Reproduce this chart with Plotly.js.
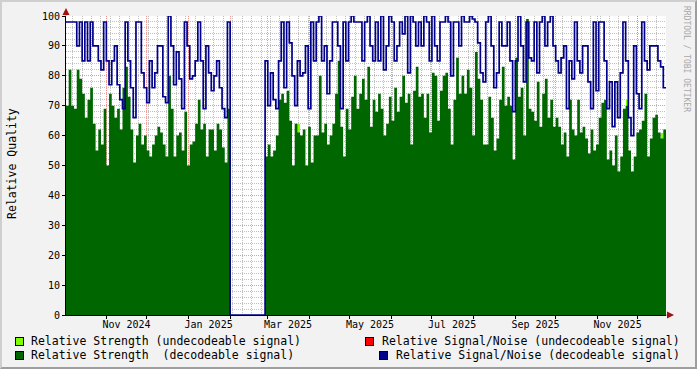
<!DOCTYPE html>
<html>
<head>
<meta charset="utf-8">
<script src="https://cdn.plot.ly/plotly-3.0.1.min.js"></script>
<style>
  html, body { margin: 0; padding: 0; background: #f2f2f2; }
  #wrap { position: relative; width: 697px; height: 369px; }
  #chart { width: 697px; height: 369px; }
  #frame { position: absolute; left: 0; top: 0; width: 697px; height: 369px; box-sizing: border-box;
           border-style: solid; border-width: 2px; border-color: #cfcfcf #9e9e9e #9e9e9e #cfcfcf; pointer-events: none; }
</style>
</head>
<body>
<div id="wrap"><div id="chart"></div><div id="frame"></div></div>
<script>
// ---- data (one sample every 2 days starting 2024-10-02) ----
const startDate = '2024-10-02';
const stepDays = 2;

const strengthDecodeable = [
70,82,70,69,82,79,74,66,72,76,64,55,62,57,69,50,74,70,66,69,62,76,83,73,62,51,60,64,57,60,55,53,57,60,63,61,57,53,80,69,53,60,61,55,68,
50,57,58,64,72,62,64,53,62,62,55,64,62,56,51,69,
0,0,0,0,0,0,0,0,0,0,0,0,0,
53,57,53,55,60,72,74,71,75,65,50,64,61,60,62,
50,63,51,60,60,80,61,64,57,60,64,74,85,63,53,69,62,73,80,69,74,79,72,83,63,72,68,74,69,60,64,73,65,76,68,73,80,71,74,57,75,83,73,74,66,
74,61,81,80,65,75,80,81,69,57,72,86,74,80,74,82,76,60,88,79,72,57,57,73,66,55,59,72,83,70,73,70,52,86,73,76,60,99,69,68,65,78,63,74,79,
66,72,63,66,63,57,61,53,72,62,60,72,61,63,59,54,62,55,57,66,71,72,52,55,50,60,48,53,69,70,55,48,53,61,62,65,74,53,59,66,67,61,59,62
];

const snrDecodeable = [
98,98,98,98,90,98,85,98,85,98,90,90,85,82,98,85,77,85,90,77,72,69,98,85,76,66,98,98,81,76,71,85,76,81,90,90,73,71,100,90,77,88,79,69,98,
90,79,80,85,98,85,69,90,81,75,80,85,76,69,66,98,
0,0,0,0,0,0,0,0,0,0,0,0,0,
85,70,81,72,69,85,98,76,98,91,80,70,85,80,81,
90,69,98,85,98,100,85,90,74,85,98,98,90,69,98,85,98,100,98,98,98,85,98,100,90,85,98,85,100,82,90,100,98,85,90,98,94,100,81,100,98,90,98,90,100,
98,85,100,90,85,98,98,100,98,80,98,98,90,100,98,98,100,99,98,91,81,78,98,100,90,76,81,98,90,90,98,85,68,85,100,90,78,98,86,85,98,81,98,100,90,
98,100,90,85,81,86,90,69,85,79,98,85,81,90,90,78,69,98,75,98,98,85,69,78,63,78,66,81,98,85,66,60,90,74,69,98,85,82,90,90,90,85,83,76
];

// undecodeable samples (sample index -> value); only a few appear
const strengthUndecodeableIdx = [86, 208, 221];
const strengthUndecodeable    = [64, 72, 61];
const snrUndecodeableIdx = [];
const snrUndecodeable    = [];

const tickDates  = ['2024-11-16','2025-01-16','2025-03-16','2025-05-16','2025-07-16','2025-09-16','2025-11-16'];
const tickLabels = ['Nov 2024','Jan 2025','Mar 2025','May 2025','Jul 2025','Sep 2025','Nov 2025'];

const legendLabels = [
  'Relative Strength (undecodeable signal)',
  'Relative Signal/Noise (undecodeable signal)',
  'Relative Strength\u00a0 (decodeable signal)',
  'Relative Signal/Noise (decodeable signal)'
];

// ---- build ----
const DAY = 86400000;
const t0 = Date.parse(startDate + 'T00:00:00Z');
function dateOf(i) { return new Date(t0 + i * stepDays * DAY).toISOString().slice(0, 19); }
const n = strengthDecodeable.length;
const xs = strengthDecodeable.map((_, i) => dateOf(i));
const xEnd = dateOf(n);
const stepX = xs.concat([xEnd]);
const stepStrength = strengthDecodeable.concat([strengthDecodeable[n - 1]]);
const stepSnr = snrDecodeable.concat([snrDecodeable[n - 1]]);

const C_LIME = '#80ff00', C_RED = '#ff0000', C_GREEN = '#006600', C_NAVY = '#00008b';
const MONO = 'DejaVu Sans Mono';

const traces = [
  { type: 'bar', x: strengthUndecodeableIdx.map(dateOf), y: strengthUndecodeable,
    offset: 0, width: stepDays * DAY, marker: { color: C_LIME, line: { width: 0 } },
    hoverinfo: 'skip', showlegend: false },
  { type: 'scatter', mode: 'lines', x: stepX, y: stepStrength, fill: 'tozeroy',
    fillcolor: C_GREEN, line: { width: 0, shape: 'hv', color: C_GREEN },
    hoverinfo: 'skip', showlegend: false },
  { type: 'scatter', mode: 'lines', x: snrUndecodeableIdx.map(dateOf), y: snrUndecodeable,
    line: { width: 1.5, shape: 'hv', color: C_RED }, hoverinfo: 'skip', showlegend: false },
  { type: 'scatter', mode: 'lines', x: stepX, y: stepSnr, cliponaxis: false,
    line: { width: 1.7, shape: 'hv', color: C_NAVY }, hoverinfo: 'skip', showlegend: false },
  { type: 'scatter', mode: 'lines', x: [], y: [], xaxis: 'x2', yaxis: 'y', hoverinfo: 'skip', showlegend: false }
];

// pixel helpers for decorations (plot area: x 66..666, y 16..315)
const PL = 66, PW = 600, PT = 16, PH = 299;
const px = v => (v - PL) / PW;
const py = v => (PT + PH - v) / PH;

const annotations = [
  { xref: 'paper', yref: 'paper', x: px(12), y: py(164), text: 'Relative Quality', textangle: -90,
    showarrow: false, xanchor: 'center', yanchor: 'middle', font: { family: MONO, size: 11.5, color: '#000' } },
  { xref: 'paper', yref: 'paper', x: px(687), y: py(59), text: 'RRDTOOL / TOBI OETIKER', textangle: 90,
    showarrow: false, xanchor: 'center', yanchor: 'middle', font: { family: MONO, size: 8, color: '#a8a8a8' } },
  { xref: 'paper', yref: 'paper', x: px(674), y: 0, ax: -9, ay: 0, text: '', showarrow: true,
    arrowhead: 2, arrowsize: 1.4, arrowwidth: 1, arrowcolor: '#a01010' },
  { xref: 'paper', yref: 'paper', x: 0, y: py(8), ax: 0, ay: 9, text: '', showarrow: true,
    arrowhead: 2, arrowsize: 1.4, arrowwidth: 1, arrowcolor: '#a01010' }
];

const legendItems = [
  { color: C_LIME,  boxX: 19,  textX: 30,  anchor: 'left',  y: 341, label: legendLabels[0] },
  { color: C_RED,   boxX: 369, textX: 681, anchor: 'right', y: 341, label: legendLabels[1] },
  { color: C_GREEN, boxX: 19,  textX: 30,  anchor: 'left',  y: 355, label: legendLabels[2] },
  { color: C_NAVY,  boxX: 383, textX: 681, anchor: 'right', y: 355, label: legendLabels[3] }
];
legendItems.forEach(it => {
  annotations.push({ xref: 'paper', yref: 'paper', x: px(it.boxX), y: py(it.y), text: ' ', showarrow: false,
    xanchor: 'center', yanchor: 'middle', width: 7, height: 7, borderpad: 0, borderwidth: 1,
    bordercolor: '#000', bgcolor: it.color, font: { size: 1 } });
  annotations.push({ xref: 'paper', yref: 'paper', x: px(it.textX), y: py(it.y), text: it.label, showarrow: false,
    xanchor: it.anchor, yanchor: 'middle', borderpad: 0, font: { family: MONO, size: 11.5, color: '#000' } });
});

const GRID = 'rgba(143,143,143,0.56)';
const MGRID = 'rgba(222,48,48,0.5)';
const range = [dateOf(0), xEnd];

const layout = {
  width: 697, height: 369,
  margin: { l: PL, r: 697 - PL - PW, t: PT, b: 369 - PT - PH },
  paper_bgcolor: '#f2f2f2', plot_bgcolor: '#ffffff',
  showlegend: false, barmode: 'overlay', bargap: 0,
  xaxis: {
    type: 'date', range: range, tickmode: 'array', tickvals: tickDates, ticktext: tickLabels,
    ticks: '', showgrid: false, zeroline: false, showline: true, linecolor: '#000', linewidth: 1,
    tickfont: { family: MONO, size: 10, color: '#000' },
    minor: { dtick: 'M1', tick0: '2024-11-01', showgrid: true, gridcolor: MGRID, griddash: '1px,1px',
             gridwidth: 1, ticks: 'outside', ticklen: 3, tickcolor: '#000' }
  },
  xaxis2: {
    type: 'date', range: range, overlaying: 'x', anchor: 'y', side: 'bottom',
    tick0: '2024-09-30', dtick: 7 * DAY, showticklabels: false, ticks: '',
    showgrid: true, gridcolor: GRID, griddash: '1px,1px', gridwidth: 1, zeroline: false, showline: false
  },
  yaxis: {
    range: [0, 100], dtick: 10, tick0: 0, ticks: 'outside', ticklen: 3, tickcolor: '#000',
    showgrid: true, gridcolor: MGRID, griddash: '1px,1px', gridwidth: 1,
    zeroline: false, showline: true, linecolor: '#000', linewidth: 1,
    tickfont: { family: MONO, size: 10, color: '#000' },
    minor: { dtick: 2, showgrid: true, gridcolor: GRID, griddash: '1px,1px', gridwidth: 1 }
  },
  annotations: annotations
};

Plotly.newPlot('chart', traces, layout, { staticPlot: true, displayModeBar: false });
</script>
</body>
</html>
